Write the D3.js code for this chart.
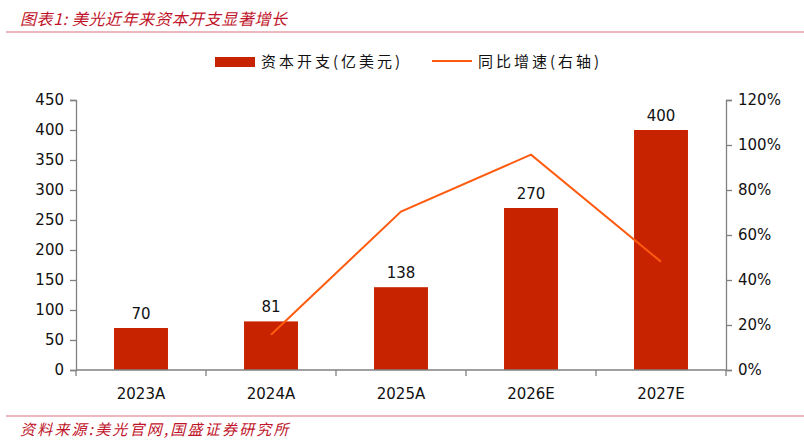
<!DOCTYPE html>
<html>
<head>
<meta charset="utf-8">
<script src="https://cdn.jsdelivr.net/npm/d3@7"></script>
<style>
  body { margin: 0; background: #fff; }
  svg { display: block; }
</style>
</head>
<body>
<div id="chart"></div>
<script>
const categories = ['2023A', '2024A', '2025A', '2026E', '2027E']
const capex = [70, 81, 138, 270, 400]
// growth starts from 2024A
const growth = [null, 0.157, 0.704, 0.957, 0.481]
const leftTicks = [0, 50, 100, 150, 200, 250, 300, 350, 400, 450]
const rightTicks = [0, 0.2, 0.4, 0.6, 0.8, 1.0, 1.2]

const width = 804, height = 442
const margin = {left: 76, right: 78, top: 100, bottom: 72}
const barColor = '#C82300'
const lineColor = '#FF5B0F'
const axisColor = '#808080'
const numFont = '"DejaVu Sans", Verdana, sans-serif'
const cjkFont = '"Noto Sans CJK SC", sans-serif'

const svg = d3.select('#chart').append('svg')
  .attr('width', width)
  .attr('height', height)

// header and footer
svg.append('text')
  .attr('x', 20).attr('y', 25)
  .attr('font-family', cjkFont)
  .attr('font-style', 'italic')
  .attr('font-size', 16)
  .attr('letter-spacing', 0.6)
  .attr('fill', '#C0142A')
  .text('图表1:  美光近年来资本开支显著增长')
svg.append('line')
  .attr('x1', 6).attr('x2', width).attr('y1', 32).attr('y2', 32)
  .attr('stroke', '#D9707C').attr('stroke-width', 1.2)
svg.append('line')
  .attr('x1', 6).attr('x2', width).attr('y1', 416).attr('y2', 416)
  .attr('stroke', '#D9707C').attr('stroke-width', 1.2)
svg.append('text')
  .attr('x', 20).attr('y', 435)
  .attr('font-family', cjkFont)
  .attr('font-style', 'italic')
  .attr('font-size', 15)
  .attr('letter-spacing', 2.2)
  .attr('fill', '#C0142A')
  .text('资料来源:美光官网,国盛证券研究所')

const x = d3.scaleBand()
  .domain(categories)
  .range([margin.left, width - margin.right])
  .paddingInner(0.585)
  .paddingOuter(0.2925)
const y = d3.scaleLinear().domain([0, 450]).range([height - margin.bottom, margin.top])
const y2 = d3.scaleLinear().domain([0, 1.2]).range([height - margin.bottom, margin.top])

// bars
svg.selectAll('rect.bar')
  .data(capex)
  .enter().append('rect')
  .attr('class', 'bar')
  .attr('x', (d, i) => x(categories[i]))
  .attr('y', d => y(d))
  .attr('width', x.bandwidth())
  .attr('height', d => y(0) - y(d))
  .attr('fill', barColor)

svg.selectAll('text.val')
  .data(capex)
  .enter().append('text')
  .attr('class', 'val')
  .attr('x', (d, i) => x(categories[i]) + x.bandwidth() / 2)
  .attr('y', d => y(d) - 9)
  .attr('text-anchor', 'middle')
  .attr('font-family', numFont)
  .attr('font-size', 15)
  .attr('fill', '#111')
  .text(d => d)

// growth line
const pts = growth.map((g, i) => ({g, c: categories[i]})).filter(d => d.g !== null)
const line = d3.line()
  .x(d => x(d.c) + x.bandwidth() / 2)
  .y(d => y2(d.g))
svg.append('path')
  .datum(pts)
  .attr('d', line)
  .attr('fill', 'none')
  .attr('stroke', lineColor)
  .attr('stroke-width', 2)

// axes
const styleAxis = g => {
  g.selectAll('path, line').attr('stroke', axisColor).attr('stroke-width', 1.3)
  g.selectAll('text')
    .attr('font-family', numFont)
    .attr('font-size', 15)
    .attr('fill', '#111')
}
svg.append('g')
  .attr('transform', `translate(${margin.left},0)`)
  .call(d3.axisLeft(y).tickValues(leftTicks).tickSizeOuter(0).tickSize(6).tickPadding(6))
  .call(styleAxis)
svg.append('g')
  .attr('transform', `translate(${width - margin.right},0)`)
  .call(d3.axisRight(y2).tickValues(rightTicks).tickFormat(d3.format('.0%')).tickSizeOuter(0).tickSize(6).tickPadding(6))
  .call(styleAxis)

// x axis with ticks at category boundaries
const xg = svg.append('g')
  .attr('transform', `translate(0,${y(0)})`)
xg.append('line')
  .attr('x1', margin.left).attr('x2', width - margin.right)
  .attr('stroke', axisColor).attr('stroke-width', 1.3)
const step = x.step()
const bounds = d3.range(categories.length + 1).map(i => margin.left + i * step)
xg.selectAll('line.tick')
  .data(bounds)
  .enter().append('line')
  .attr('class', 'tick')
  .attr('x1', d => d).attr('x2', d => d)
  .attr('y1', 0).attr('y2', 6)
  .attr('stroke', axisColor).attr('stroke-width', 1.3)
xg.selectAll('text')
  .data(categories)
  .enter().append('text')
  .attr('x', d => x(d) + x.bandwidth() / 2)
  .attr('y', 29)
  .attr('text-anchor', 'middle')
  .attr('font-family', numFont)
  .attr('font-size', 15)
  .attr('fill', '#111')
  .text(d => d)

// legend
const lg = svg.append('g')
lg.append('rect')
  .attr('x', 215).attr('y', 57).attr('width', 40).attr('height', 10)
  .attr('fill', barColor)
lg.append('text')
  .attr('x', 261).attr('y', 67)
  .attr('font-family', cjkFont).attr('font-size', 15).attr('fill', '#111')
  .attr('letter-spacing', 3)
  .text('资本开支(亿美元)')
lg.append('line')
  .attr('x1', 432).attr('x2', 472).attr('y1', 61).attr('y2', 61)
  .attr('stroke', lineColor).attr('stroke-width', 2)
lg.append('text')
  .attr('x', 478).attr('y', 67)
  .attr('font-family', cjkFont).attr('font-size', 15).attr('fill', '#111')
  .attr('letter-spacing', 3)
  .text('同比增速(右轴)')
</script>
</body>
</html>
